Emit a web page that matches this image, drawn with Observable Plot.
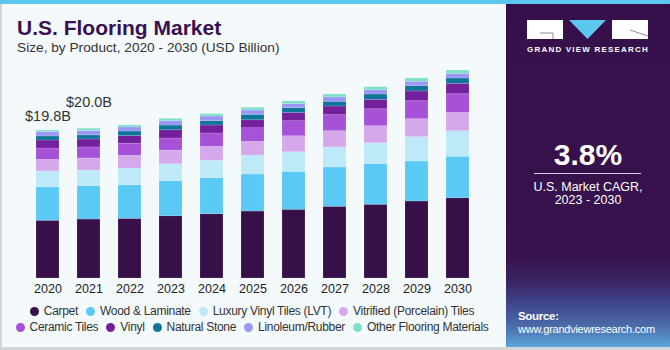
<!DOCTYPE html>
<html><head><meta charset="utf-8">
<script src="https://cdn.jsdelivr.net/npm/d3@7"></script>
<script src="https://cdn.jsdelivr.net/npm/@observablehq/plot@0.6"></script>
<style>
body{margin:0;background:#fff;}
#root{position:relative;width:670px;height:350px;background:#f4f9fc;overflow:hidden;font-family:"Liberation Sans",Arial,sans-serif;}
#topbar{position:absolute;left:0;top:0;width:670px;height:4px;background:#5cc6ee;z-index:3;}
#lborder{position:absolute;left:0;top:0;width:2px;height:350px;background:#d3d6d9;}
#bborder{position:absolute;left:0;top:347px;width:670px;height:3px;background:#d3d6d9;}
#title{position:absolute;left:17px;top:17px;font-size:21px;line-height:21px;font-weight:bold;color:#3a1150;white-space:nowrap;}
#subtitle{position:absolute;left:17px;top:40.5px;font-size:13.7px;line-height:13.7px;color:#333;white-space:nowrap;}
#chart{position:absolute;left:0;top:60px;}
#legend{position:absolute;left:7px;top:305px;width:490px;display:flex;flex-wrap:wrap;justify-content:center;row-gap:3px;font-size:12px;letter-spacing:-0.3px;color:#333;}
.item{display:flex;align-items:center;margin:0 4px;line-height:13px;white-space:nowrap;}
.dot{width:9px;height:9px;border-radius:50%;margin-right:5px;}
#panel{position:absolute;left:506px;top:0;width:164px;height:347px;
 background:linear-gradient(to bottom,#36104a 0px,#37124c 255px,#3b2362 280px,#3f3f86 300px,#4a6aa8 325px,#5aa6dc 347px);}
#panel .t{position:absolute;left:0;width:164px;text-align:center;color:#fff;white-space:nowrap;}
</style></head><body>
<div id="root">
 <div id="lborder"></div>
 <div id="title">U.S. Flooring Market</div>
 <div id="subtitle">Size, by Product, 2020 - 2030 (USD Billion)</div>
 <div id="chart"></div>
 <div id="legend"></div>
 <div id="panel">
  <svg width="164" height="60" style="position:absolute;left:0;top:0">
   <rect x="21" y="20" width="36" height="19" fill="#fff"/>
   <path d="M34 33 H47 V39" stroke="#8a8a9a" stroke-width="1" fill="none"/>
   <path d="M63 20 L100 20 L81.5 39 Z" fill="#5cc6ee"/>
   <rect x="106" y="20" width="36" height="19" fill="#fff"/>
   <path d="M124 30 L142 36" stroke="#8a8a9a" stroke-width="1" fill="none"/>
  </svg>
  <div class="t" style="top:46px;font-size:8px;line-height:8px;font-weight:bold;letter-spacing:1.2px;">GRAND VIEW RESEARCH</div>
  <div class="t" style="top:140px;font-size:30px;line-height:30px;font-weight:bold;">3.8%</div>
  <div style="position:absolute;left:28px;top:173px;width:107px;height:1px;background:#d8d0e0;"></div>
  <div class="t" style="top:181px;font-size:12.5px;line-height:13px;">U.S. Market CAGR,</div>
  <div class="t" style="top:194px;font-size:12.5px;line-height:13px;">2023 - 2030</div>
  <div style="position:absolute;left:12px;top:310px;color:#fff;font-size:11.5px;line-height:12px;font-weight:bold;letter-spacing:-0.3px;">Source:</div>
  <div style="position:absolute;left:12px;top:323px;color:#fff;font-size:11px;line-height:12px;letter-spacing:-0.25px;white-space:nowrap;">www.grandviewresearch.com</div>
 </div>
 <div id="topbar"></div>
 <div id="bborder"></div>
</div>
<script>
const years = ["2020","2021","2022","2023","2024","2025","2026","2027","2028","2029","2030"];
const categories = ["Carpet","Wood & Laminate","Luxury Vinyl Tiles (LVT)","Vitrified (Porcelain) Tiles","Ceramic Tiles","Vinyl","Natural Stone","Linoleum/Rubber","Other Flooring Materials"];
const colors = ["#37104a","#5bc9f5","#bde9f9","#d5a8ec","#a651d8","#72209c","#0e7499","#9b97f6","#7de0cc"];

const carpet     = [7.72, 7.89, 7.98, 8.33, 8.60, 8.96, 9.19, 9.59, 9.86, 10.30, 10.74];
const wood       = [4.46, 4.46, 4.50, 4.68, 4.82, 4.95, 5.08, 5.26, 5.43, 5.35, 5.54];
const lvt        = [2.14, 2.10, 2.23, 2.27, 2.33, 2.54, 2.62, 2.68, 2.81, 3.25, 3.42];
const vitrified  = [1.56, 1.61, 1.70, 1.83, 1.87, 1.83, 2.14, 2.18, 2.27, 2.41, 2.46];
const ceramic    = [1.51, 1.47, 1.61, 1.61, 1.78, 1.82, 2.01, 2.14, 2.27, 2.41, 2.49];
const vinyl      = [1.07, 1.07, 1.02, 1.11, 1.07, 1.07, 1.12, 1.16, 1.26, 1.30, 1.39];
const stone      = [0.54, 0.54, 0.63, 0.63, 0.58, 0.72, 0.62, 0.63, 0.71, 0.71, 0.71];
const linoleum   = [0.58, 0.58, 0.54, 0.58, 0.63, 0.58, 0.54, 0.58, 0.58, 0.59, 0.62];
const other      = [0.23, 0.32, 0.27, 0.32, 0.31, 0.36, 0.36, 0.40, 0.40, 0.44, 0.45];

const labelYears = ["2020","2021"];
const labelTexts = ["$19.8B","$20.0B"];

const series = [carpet, wood, lvt, vitrified, ceramic, vinyl, stone, linoleum, other];
const rows = [];
years.forEach((yr, i) => series.forEach((s, j) => rows.push({year: yr, product: categories[j], value: s[i]})));
const totals = years.map((yr, i) => d3.sum(series, s => s[i]));
const labels = labelYears.map((yr, k) => ({year: yr, total: totals[years.indexOf(yr)], text: labelTexts[k]}));

const chart = Plot.plot({
  width: 505, height: 240,
  marginTop: 0, marginBottom: 22, marginLeft: 13, marginRight: 12,
  style: {background: "transparent", fontFamily: "Liberation Sans, Arial, sans-serif", fontSize: "12.5px", color: "#222"},
  x: {type: "band", domain: years, padding: 0.43, label: null, tickSize: 0, tickPadding: 6},
  y: {domain: [0, 29.16], axis: null},
  color: {domain: categories, range: colors},
  marks: [
    Plot.barY(rows, {x: "year", y: "value", fill: "product", stroke: "#ffffff", strokeOpacity: 0.18, strokeWidth: 0.8}),
    Plot.text(labels.slice(0,1), {x: "year", y: "total", text: "text", lineAnchor: "bottom", dy: -9, fontSize: 14.5, fill: "#333"}),
    Plot.text(labels.slice(1,2), {x: "year", y: "total", text: "text", lineAnchor: "bottom", dy: -22, fontSize: 14.5, fill: "#333"})
  ]
});
document.getElementById("chart").appendChild(chart);

const legend = document.getElementById("legend");
categories.forEach((c, j) => {
  const it = document.createElement("div");
  it.className = "item";
  const dot = document.createElement("span");
  dot.className = "dot";
  dot.style.background = colors[j];
  const tx = document.createElement("span");
  tx.textContent = c;
  it.appendChild(dot); it.appendChild(tx);
  legend.appendChild(it);
});
</script>
</body></html>
